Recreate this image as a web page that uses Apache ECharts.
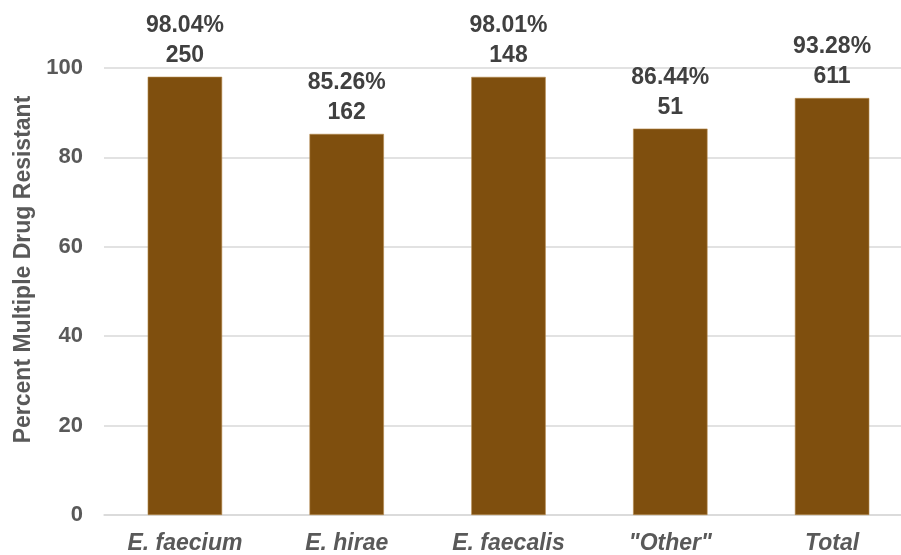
<!DOCTYPE html>
<html>
<head>
<meta charset="utf-8">
<title>Percent Multiple Drug Resistant</title>
<script src="https://cdn.jsdelivr.net/npm/echarts@6/dist/echarts.min.js"></script>
<style>
  html, body { margin: 0; padding: 0; background: #ffffff; }
  #chart { width: 901px; height: 555px; }
</style>
</head>
<body>
<div id="chart"></div>
<script>
// Species groups and their multidrug-resistance share
const categories = ['E. faecium', 'E. hirae', 'E. faecalis', '"Other"', 'Total'];
const percentResistant = [98.04, 85.26, 98.01, 86.44, 93.28];
const isolateCounts = [250, 162, 148, 51, 611];
const yTicks = { min: 0, max: 100, interval: 20 };

const FONT = '"Liberation Sans", Arial, sans-serif';
const chart = echarts.init(document.getElementById('chart'), null, { renderer: 'canvas' });

chart.setOption({
  animation: false,
  backgroundColor: '#ffffff',
  // plot area runs past the right edge of the canvas
  grid: { left: 104, top: 68, width: 809, height: 447, containLabel: false, outerBoundsMode: 'none' },
  xAxis: {
    type: 'category',
    data: categories,
    axisTick: { show: false },
    axisLine: { show: true, lineStyle: { color: '#d9d9d9', width: 1.5 } },
    axisLabel: {
      color: '#595959',
      fontFamily: FONT,
      fontSize: 23,
      fontWeight: 'bold',
      fontStyle: 'italic',
      margin: 17
    }
  },
  yAxis: {
    type: 'value',
    min: yTicks.min,
    max: yTicks.max,
    interval: yTicks.interval,
    name: 'Percent Multiple Drug Resistant',
    nameLocation: 'middle',
    nameGap: 68,
    nameTextStyle: {
      color: '#595959',
      fontFamily: FONT,
      fontSize: 23,
      fontWeight: 'bold',
      padding: [0, 0, 0, 44]
    },
    axisLine: { show: false },
    axisTick: { show: false },
    axisLabel: {
      color: '#595959',
      fontFamily: FONT,
      fontSize: 22,
      fontWeight: 'bold',
      margin: 21
    },
    splitLine: { show: true, lineStyle: { color: '#d9d9d9', width: 1.5 } }
  },
  series: [{
    type: 'bar',
    data: percentResistant,
    barWidth: '46%',
    itemStyle: { color: '#7f4f0e', borderColor: '#b58a4e', borderWidth: 0.6 },
    label: {
      show: true,
      position: 'top',
      distance: 6,
      color: '#404040',
      fontFamily: FONT,
      fontSize: 23,
      fontWeight: 'bold',
      lineHeight: 30,
      formatter: p => percentResistant[p.dataIndex].toFixed(2) + '%\n' + isolateCounts[p.dataIndex]
    }
  }]
});
</script>
</body>
</html>
